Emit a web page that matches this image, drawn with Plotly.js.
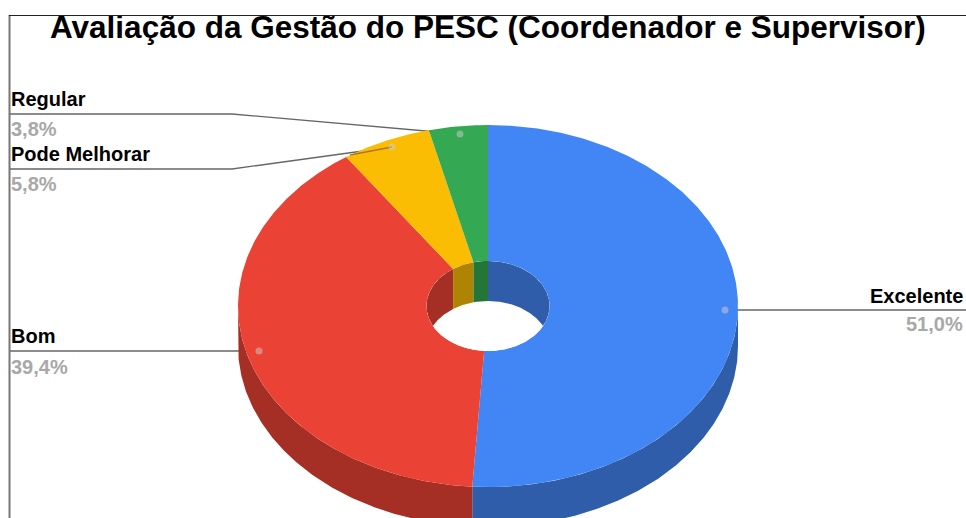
<!DOCTYPE html>
<html><head><meta charset="utf-8">
<script src="https://cdn.plot.ly/plotly-3.0.1.min.js"></script>
<style>html,body{margin:0;padding:0;background:#fff;overflow:hidden}
#c{width:966px;height:518px}
#topmask{position:absolute;left:0;top:0;width:966px;height:15px;background:#fff;z-index:5}
#topline{position:absolute;left:9px;top:15px;width:957px;height:1px;background:#222;z-index:6}</style></head>
<body><div id="c"></div><div id="topmask"></div><div id="topline"></div>
<script>
const categories = ["Excelente","Bom","Pode Melhorar","Regular"];
const values = [51.0,39.4,5.8,3.8];
const valueLabels = ["51,0%","39,4%","5,8%","3,8%"];
const topColors = ["#4285f4","#ea4335","#fbbc04","#34a853"];
const sideColors = ["#2f5da9","#a52f25","#b08403","#247538"];
const titleText = "Avaliação da Gestão do PESC (Coordenador e Supervisor)";

const cx=488, cy=306, rx=250, ry=181, hx=61.5, hy=45, depth=40;
const total = values.reduce((a,b)=>a+b,0);
let acc=0;
const slices = values.map(v=>{const a0=acc/total*2*Math.PI; acc+=v; return [a0,acc/total*2*Math.PI];});
const pt=(a,ax,ay,dy)=>[cx+ax*Math.sin(a), cy-ay*Math.cos(a)+dy];
function arc(a0,a1,ax,ay,dy){const n=Math.max(2,Math.ceil((a1-a0)/0.01));const o=[];
  for(let i=0;i<=n;i++)o.push(pt(a0+(a1-a0)*i/n,ax,ay,dy));return o;}
function poly(points,color,name){return {type:'scatter',mode:'lines',fill:'toself',fillcolor:color,
  x:points.map(p=>p[0]),y:points.map(p=>p[1]),line:{width:0,color:color},hoverinfo:'text',text:name,showlegend:false};}
function clamp(a0,a1,lo,hi){const s=Math.max(a0,lo),e=Math.min(a1,hi);return s<e?[s,e]:null;}
const traces=[];
// leader lines
const leaders=[
 {x:[725,966],y:[310,310]},
 {x:[10,259],y:[351,351]},
 {x:[10,232,392],y:[169,169,147]},
 {x:[10,232,460],y:[114,114,134]}];
leaders.forEach(l=>traces.push({type:'scatter',mode:'lines',x:l.x,y:l.y,line:{color:'#666',width:1.3},hoverinfo:'skip',showlegend:false}));
// outer wall: visible on the lower half of the ellipse
slices.forEach((s,i)=>{const c=clamp(s[0],s[1],Math.PI/2,3*Math.PI/2);if(!c)return;
  const A=arc(c[0],c[1],rx,ry,0),B=arc(c[0],c[1],rx,ry,depth).reverse();
  traces.push(poly(A.concat(B),sideColors[i],categories[i]));});
// top faces
slices.forEach((s,i)=>{const A=arc(s[0],s[1],rx,ry,0),B=arc(s[0],s[1],hx,hy,0).reverse();
  traces.push(poly(A.concat(B),topColors[i],categories[i]));});
// hole: white see-through, inner wall on the upper half, bounded by the hole's own outline
traces.push(poly(arc(0,2*Math.PI,hx,hy,0),'#ffffff','hole'));
slices.forEach((s,i)=>{
  [[-Math.PI/2,Math.PI/2],[3*Math.PI/2,5*Math.PI/2]].forEach(w=>{const c=clamp(s[0],s[1],w[0],w[1]);if(!c)return;
    const A=arc(c[0],c[1],hx,hy,0);
    const B=A.map(p=>{const k=(cy-p[1])/hy;return [p[0],Math.min(p[1]+depth,cy+hy*k)];}).reverse();
    traces.push(poly(A.concat(B),sideColors[i],categories[i]));});
});
// the part of the Pode Melhorar leader seen through the slice
traces.push({type:'scatter',mode:'lines',x:[350,392],y:[155,147],line:{color:'rgba(150,95,40,0.75)',width:1.3},hoverinfo:'skip',showlegend:false});
// anchor dots
traces.push({type:'scatter',mode:'markers',x:[725,259,392,460],y:[310,351,147,134],
  marker:{size:7,color:'rgba(205,205,205,0.5)'},hoverinfo:'skip',showlegend:false});
const labelPos=[[965,'right',296,324],[9,'left',336,367],[9,'left',154,184],[9,'left',99,129]];
const annotations=[];
categories.forEach((c,i)=>{const p=labelPos[i];
 annotations.push({x:p[0],y:p[2],xref:'x',yref:'y',text:c,showarrow:false,xanchor:p[1],yanchor:'middle',
   font:{family:'Liberation Sans, Arial',size:20,color:'#000',weight:700}});
 annotations.push({x:p[0],y:p[3],xref:'x',yref:'y',text:valueLabels[i],showarrow:false,xanchor:p[1],yanchor:'middle',
   font:{family:'Liberation Sans, Arial',size:20,color:'#a8a8a8',weight:700}});
});
annotations.push({x:487.5,y:27,xref:'x',yref:'y',text:titleText,showarrow:false,xanchor:'center',yanchor:'middle',
  font:{family:'Liberation Sans, Arial',size:31.5,color:'#000',weight:700}});
const layout={width:966,height:518,margin:{l:0,r:0,t:0,b:0},paper_bgcolor:'#fff',plot_bgcolor:'#fff',showlegend:false,
  xaxis:{range:[0,966],visible:false,fixedrange:true},yaxis:{range:[518,0],visible:false,fixedrange:true},
  annotations:annotations,
  shapes:[{type:'line',xref:'x',yref:'y',x0:9.5,x1:9.5,y0:15,y1:518,line:{color:'#777',width:2}}]};
Plotly.newPlot('c',traces,layout,{displayModeBar:false,staticPlot:true});
</script></body></html>
